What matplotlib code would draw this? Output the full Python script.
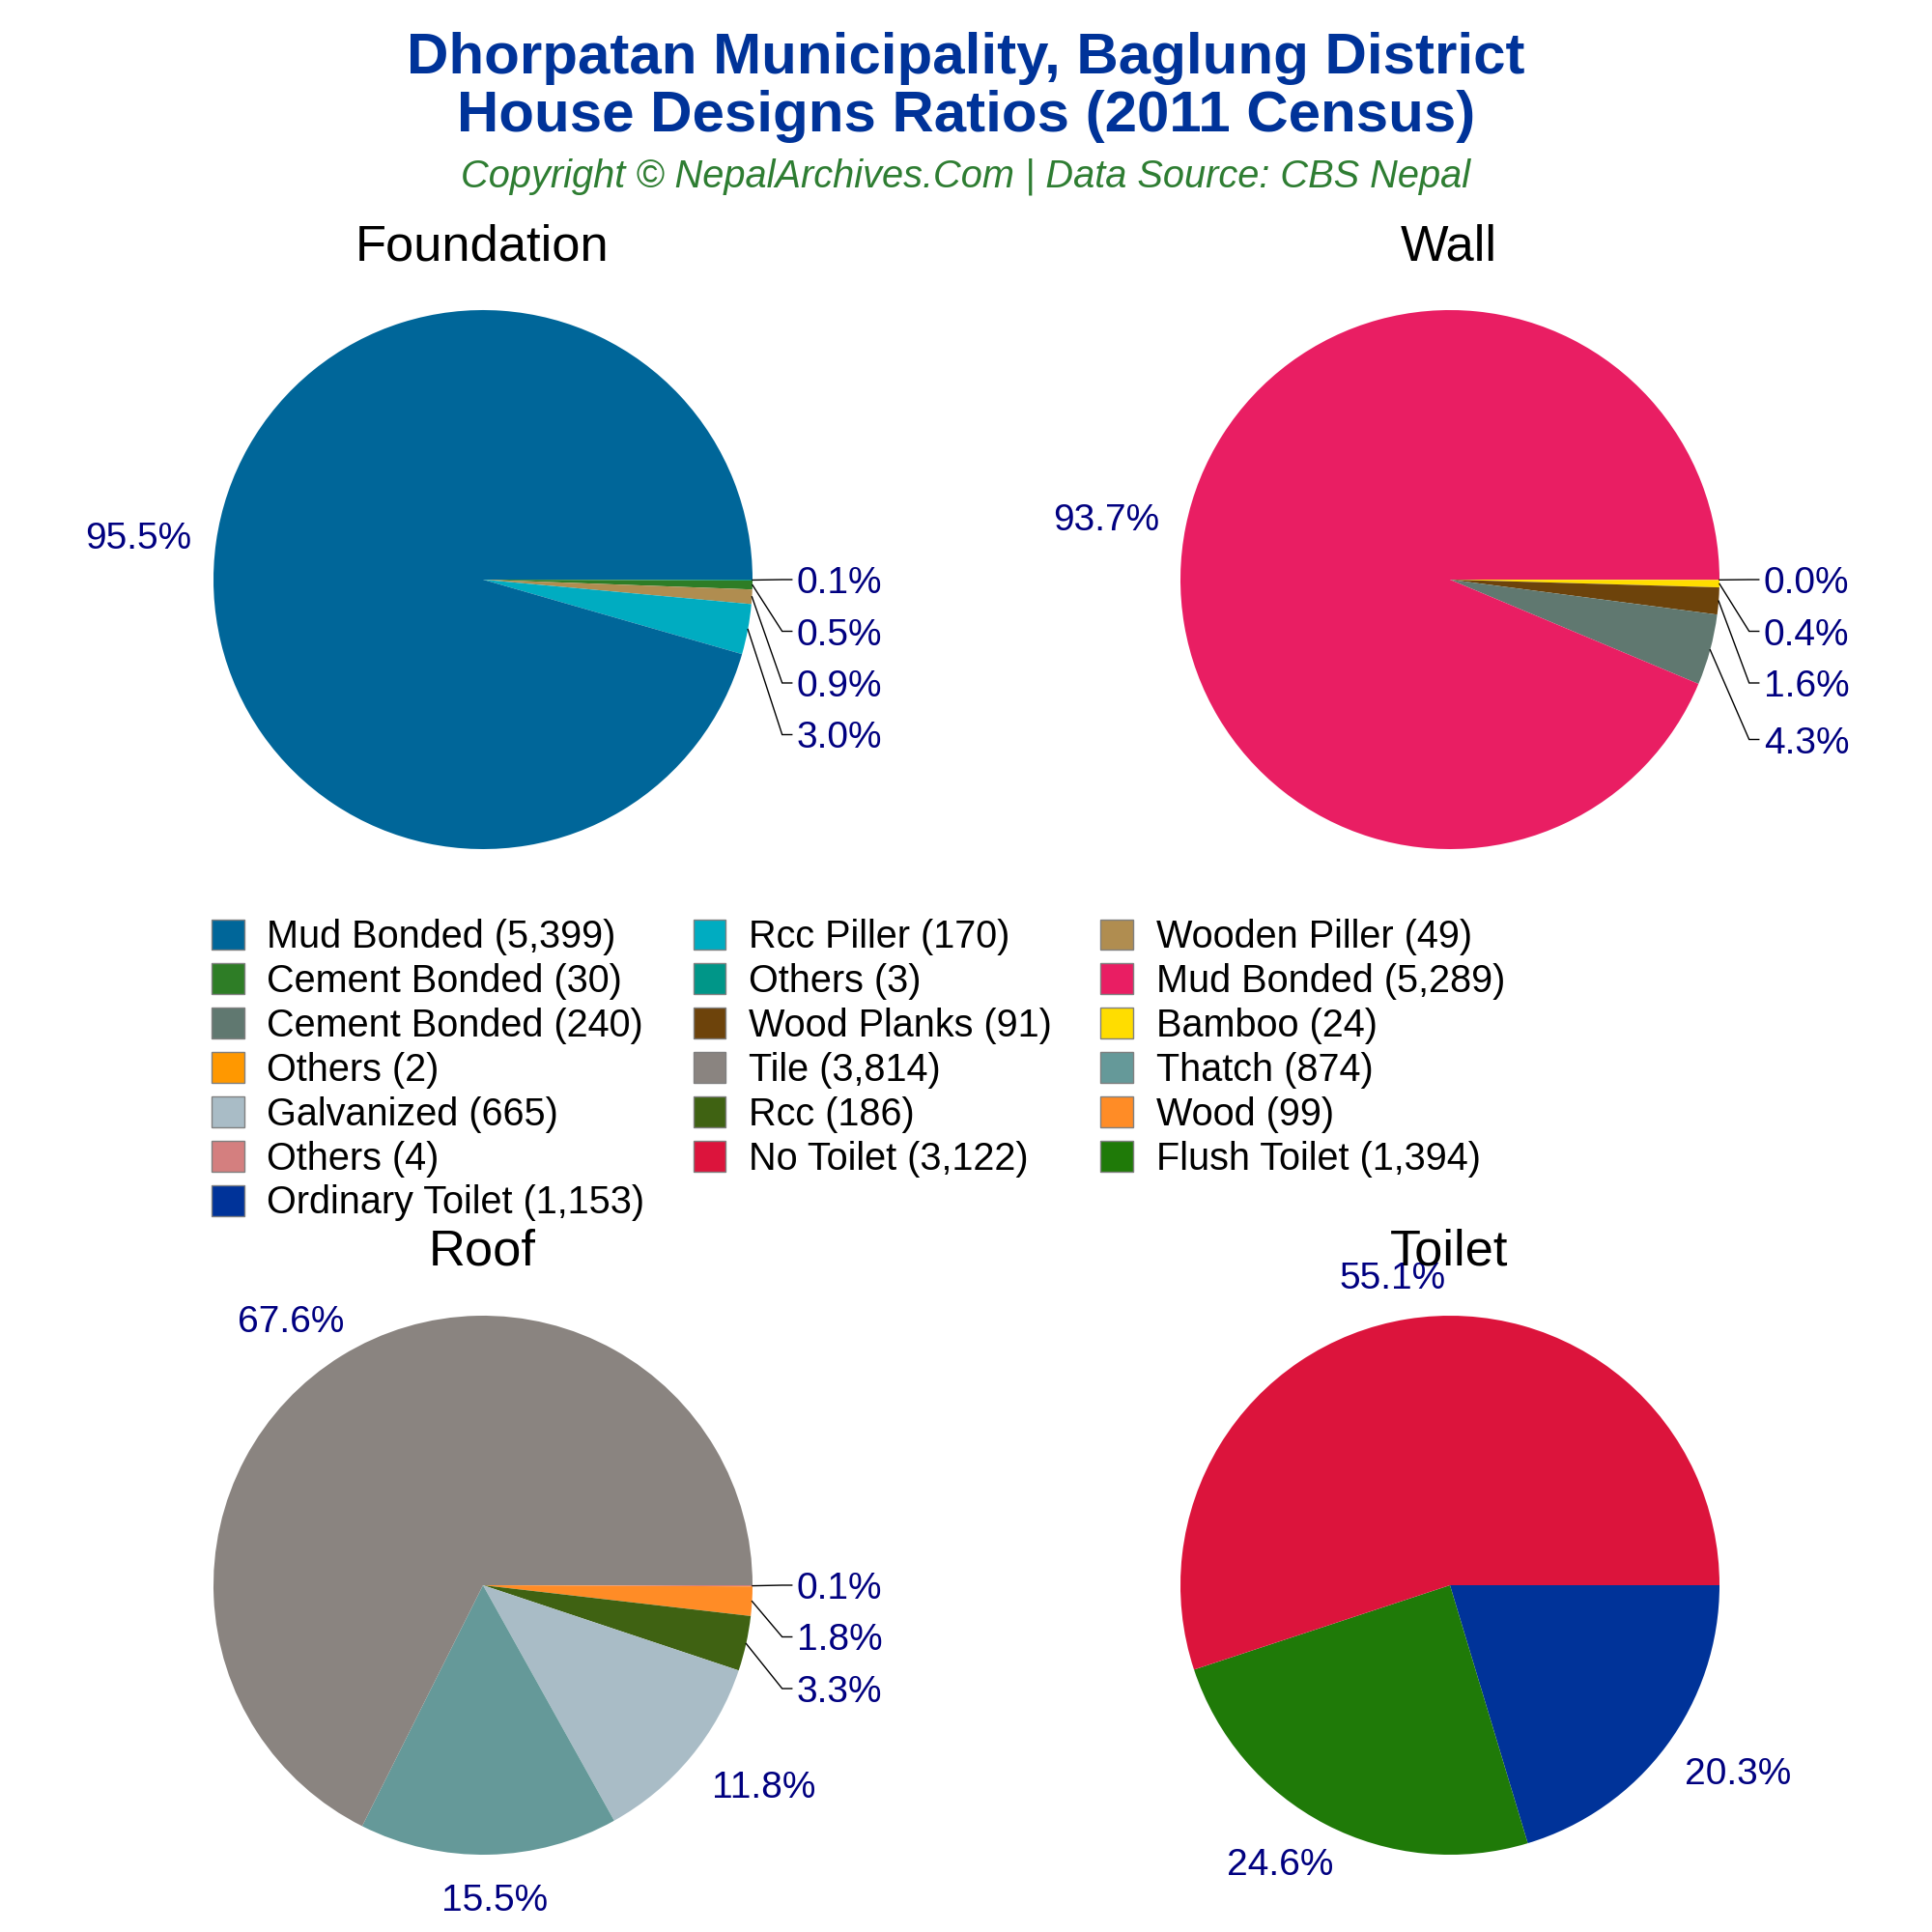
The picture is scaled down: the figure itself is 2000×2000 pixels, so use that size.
import numpy as np
import matplotlib
matplotlib.use('Agg')
import matplotlib.pyplot as plt
from matplotlib.patches import Patch

plt.rcParams['font.family'] = ['Liberation Sans', 'DejaVu Sans']

# values go clockwise from 3 o'clock, smallest first
foundation_names = ['Others', 'Cement Bonded', 'Wooden Piller', 'Rcc Piller', 'Mud Bonded']
foundation_vals = [3, 30, 49, 170, 5399]
foundation_cols = ['#009688', '#2e7d26', '#b08d50', '#00acc1', '#006699']

wall_names = ['Others', 'Bamboo', 'Wood Planks', 'Cement Bonded', 'Mud Bonded']
wall_vals = [2, 24, 91, 240, 5289]
wall_cols = ['#ff9800', '#ffdd00', '#6d430b', '#607870', '#e91e63']

roof_names = ['Others', 'Wood', 'Rcc', 'Galvanized', 'Thatch', 'Tile']
roof_vals = [4, 99, 186, 665, 874, 3814]
roof_cols = ['#d47f7f', '#ff8c26', '#3f6212', '#a9bcc6', '#659999', '#8a8480']

toilet_names = ['Ordinary Toilet', 'Flush Toilet', 'No Toilet']
toilet_vals = [1153, 1394, 3122]
toilet_cols = ['#003399', '#1f7a08', '#dc143c']

panels = [
    ('Foundation', foundation_names, foundation_vals, foundation_cols, 500, 600),
    ('Wall', wall_names, wall_vals, wall_cols, 1501, 600),
    ('Roof', roof_names, roof_vals, roof_cols, 500, 1641),
    ('Toilet', toilet_names, toilet_vals, toilet_cols, 1501, 1641),
]

# legend order, column by column: (panel, slice)
legend_order = [(0, 4), (0, 1), (1, 3), (1, 0), (2, 3), (2, 0), (3, 0),
                (0, 3), (0, 0), (1, 2), (2, 5), (2, 2), (3, 2),
                (0, 2), (1, 4), (1, 1), (2, 4), (2, 1), (3, 1)]

SIZE = 2000
R = 279
SMALL_PCT = 5.0  # below this the label is stacked with a leader line
GAP = 53.5

# sideways shift of the big labels, pixels
nudge_x = {('Foundation', 4): 9, ('Wall', 4): 7, ('Roof', 5): -5, ('Roof', 4): 4,
           ('Roof', 3): 6, ('Toilet', 0): 1, ('Toilet', 1): -5, ('Toilet', 2): -1}


def fx(px):
    return px / SIZE


def fy(px):
    return 1 - px / SIZE


fig = plt.figure(figsize=(10, 10), dpi=200, facecolor='white')

fig.text(0.5, fy(76), 'Dhorpatan Municipality, Baglung District', ha='center', va='baseline',
         fontsize=21.6, fontweight='bold', color='#003399')
fig.text(0.5, fy(136), 'House Designs Ratios (2011 Census)', ha='center', va='baseline',
         fontsize=21.6, fontweight='bold', color='#003399')
fig.text(0.5, fy(193), 'Copyright © NepalArchives.Com | Data Source: CBS Nepal', ha='center', va='baseline',
         fontsize=14.33, fontstyle='italic', color='#2e7d32')

for title, names, vals, cols, cx, cy in panels:
    ax = fig.add_axes([fx(cx - R), fy(cy + R), 2 * R / SIZE, 2 * R / SIZE])
    ax.pie(vals, colors=cols, startangle=0, counterclock=False, radius=1,
           wedgeprops={'linewidth': 0})
    ax.set_xlim(-1, 1)
    ax.set_ylim(-1, 1)
    ax.axis('off')

    fig.text(fx(cx - 1), fy(cy - 331), title, ha='center', va='baseline', fontsize=18.9, color='black')

    vals = np.array(vals, dtype=float)
    pct = vals / vals.sum() * 100
    ends = np.cumsum(pct)
    mids = np.radians(-(ends - pct / 2) * 3.6)
    n_small = 0
    for k, (p, a) in enumerate(zip(pct, mids)):
        if p < SMALL_PCT:
            y = -n_small * GAP / R
            if title == 'Wall' and n_small == 3:
                y -= 5 / R
            n_small += 1
            ax.plot([np.cos(a), 1.11, 1.146], [np.sin(a), y, y], color='black', lw=0.5,
                    clip_on=False, solid_joinstyle='miter')
            ax.text(1.164, y - 4 / R, f'{p:.1f}%', ha='left', va='center', fontsize=14,
                    color='#000080', clip_on=False)
        else:
            dx = nudge_x.get((title, k), 0) / R
            ax.text(1.325 * np.cos(a) + dx, 1.16 * np.sin(a) - 3 / R, f'{p:.1f}%', ha='center', va='center',
                    fontsize=14, color='#000080', clip_on=False)

handles = []
labels = []
for i, j in legend_order:
    handles.append(Patch(facecolor=panels[i][3][j], edgecolor='#808080', linewidth=0.5))
    labels.append(f'{panels[i][1][j]} ({panels[i][2][j]:,})')

fig.legend(handles, labels, ncols=3, loc='upper left', bbox_to_anchor=(fx(219), fy(951)),
           frameon=False, fontsize=14.25, borderpad=0, borderaxespad=0,
           handlelength=0.85, handleheight=0.85, handletextpad=0.6,
           columnspacing=1.27, labelspacing=0.2)

fig.savefig('out.png', dpi=200)
